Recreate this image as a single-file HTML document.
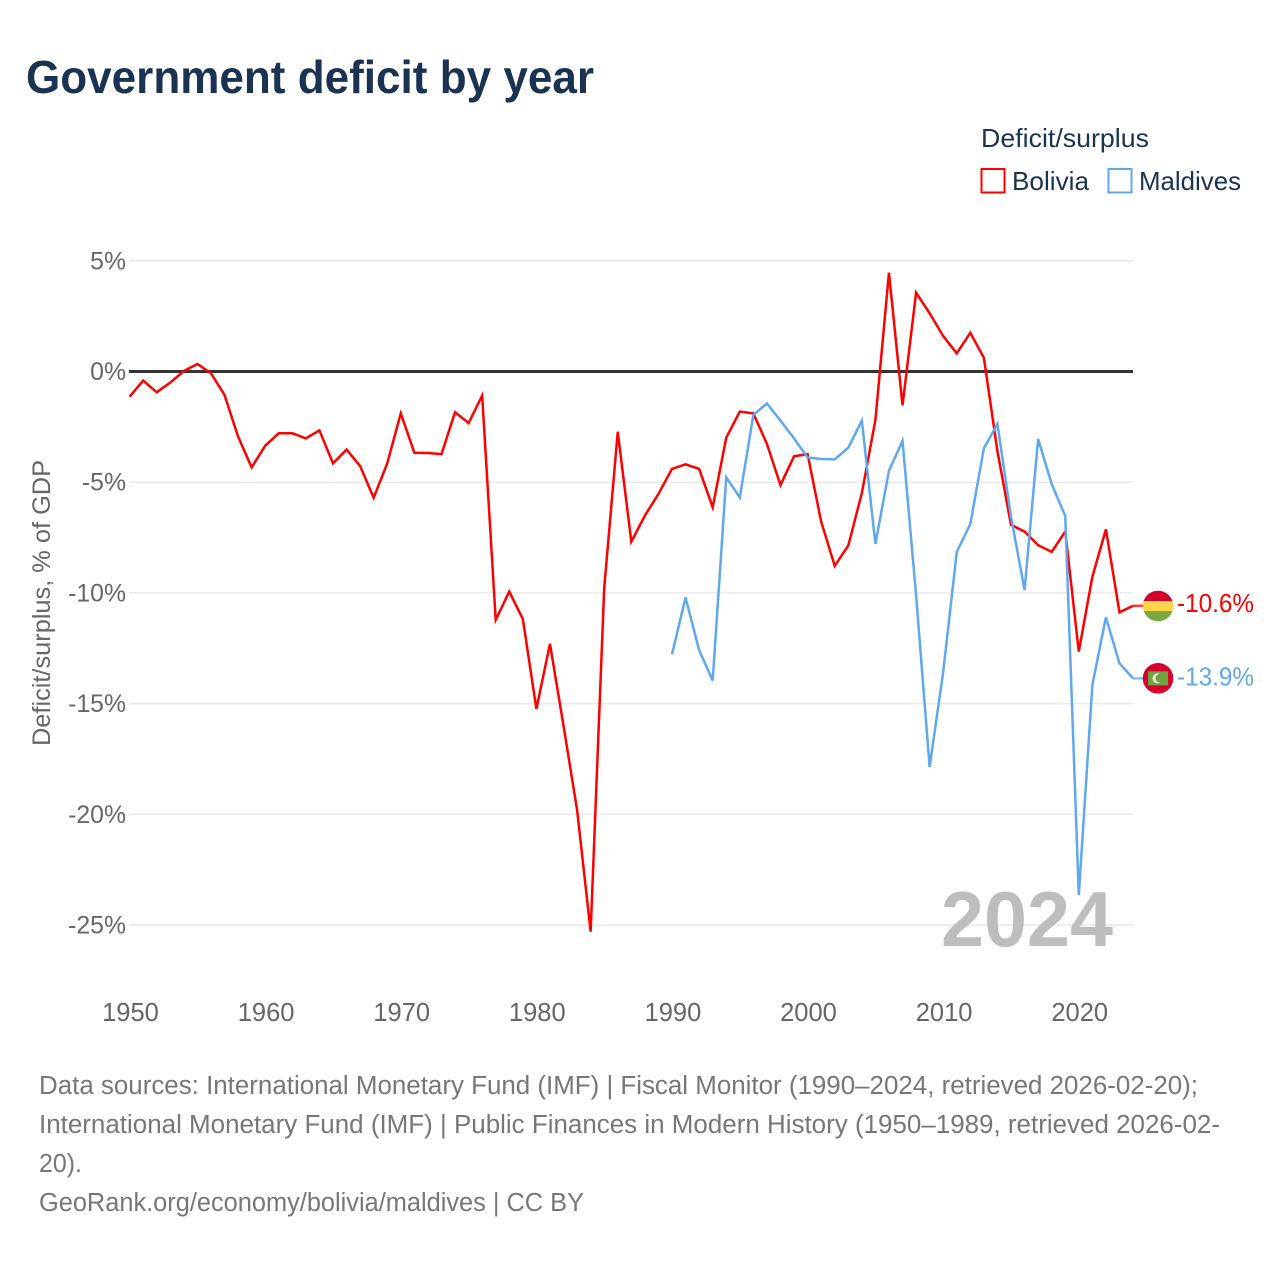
<!DOCTYPE html>
<html lang="en">
<head>
<meta charset="utf-8">
<title>Government deficit by year</title>
<style>
html,body{margin:0;padding:0;background:#fff;width:1280px;height:1280px;overflow:hidden}
svg{display:block}
text{font-family:"Liberation Sans",sans-serif}
</style>
</head>
<body>
<svg id="chart" width="1280" height="1280" viewBox="0 0 1280 1280" xmlns="http://www.w3.org/2000/svg">
  <rect width="1280" height="1280" fill="#fff"/>
  <text x="26" y="93" font-size="46" font-weight="700" fill="#1a3352" textLength="568" lengthAdjust="spacingAndGlyphs">Government deficit by year</text>
  <g>
    <text x="981" y="147" font-size="26" fill="#1a3352" textLength="168" lengthAdjust="spacingAndGlyphs">Deficit/surplus</text>
    <g>
      <rect x="981.5" y="169" width="23" height="23.5" fill="#fff" stroke="#ff0000" stroke-width="2"/>
      <text x="1012" y="190" font-size="26" fill="#1a3352" textLength="77" lengthAdjust="spacingAndGlyphs">Bolivia</text>
    </g>
    <g>
      <rect x="1108.5" y="169" width="23" height="23.5" fill="#fff" stroke="#5fa8ee" stroke-width="2"/>
      <text x="1139" y="190" font-size="26" fill="#1a3352" textLength="102" lengthAdjust="spacingAndGlyphs">Maldives</text>
    </g>
  </g>
  <text transform="translate(50,746) rotate(-90)" font-size="25" fill="#666" textLength="286" lengthAdjust="spacingAndGlyphs">Deficit/surplus, % of GDP</text>
  <g id="grid"></g>
  <g id="yticks"></g>
  <g id="xticks"></g>
  <text x="941" y="946" font-size="78" font-weight="700" fill="#bdbdbd" textLength="172" lengthAdjust="spacingAndGlyphs">2024</text>
  <g id="series"></g>
  <g id="ends"></g>
  <g font-size="25.5" fill="#777">
    <text x="39" y="1094" textLength="1159" lengthAdjust="spacingAndGlyphs">Data sources: International Monetary Fund (IMF) | Fiscal Monitor (1990–2024, retrieved 2026-02-20);</text>
    <text x="39" y="1133" textLength="1181" lengthAdjust="spacingAndGlyphs">International Monetary Fund (IMF) | Public Finances in Modern History (1950–1989, retrieved 2026-02-</text>
    <text x="39" y="1172" textLength="43" lengthAdjust="spacingAndGlyphs">20).</text>
    <text x="39" y="1211" textLength="545" lengthAdjust="spacingAndGlyphs">GeoRank.org/economy/bolivia/maldives | CC BY</text>
  </g>
</svg>
<script>
const xTickYears = [1950,1960,1970,1980,1990,2000,2010,2020];
const yTickValues = [5,0,-5,-10,-15,-20,-25];
const yTickLabels = ["5%","0%","-5%","-10%","-15%","-20%","-25%"];
const boliviaStartYear = 1950;
const boliviaValues = [-1.14,-0.41,-0.94,-0.5,0.02,0.34,-0.08,-1.06,-2.94,-4.33,
  -3.35,-2.79,-2.79,-3.02,-2.66,-4.15,-3.53,-4.27,-5.7,-4.15,
  -1.89,-3.67,-3.68,-3.73,-1.84,-2.33,-1.09,-11.22,-9.94,-11.18,
  -15.24,-12.3,-16,-19.8,-25.3,-9.78,-2.72,-7.69,-6.51,-5.53,
  -4.4,-4.19,-4.4,-6.13,-2.99,-1.81,-1.89,-3.27,-5.13,-3.83,
  -3.73,-6.78,-8.78,-7.86,-5.5,-2.19,4.46,-1.53,3.56,2.63,
  1.6,0.82,1.75,0.62,-3.6,-6.93,-7.23,-7.84,-8.15,-7.23,
  -12.65,-9.27,-7.13,-10.88,-10.58];
const maldivesStartYear = 1990;
const maldivesValues = [-12.77,-10.21,-12.58,-13.96,-4.78,-5.69,-1.96,-1.44,-2.22,-3.02,
  -3.89,-3.95,-3.97,-3.44,-2.22,-7.79,-4.48,-3.13,-10.1,-17.86,
  -13.57,-8.15,-6.89,-3.47,-2.37,-6.56,-9.87,-3.05,-5.08,-6.53,
  -23.64,-14.16,-11.1,-13.18,-13.86];
const endLabels = ["-10.6%","-13.9%"];

const SVGNS = "http://www.w3.org/2000/svg";
const xScale = y => 129.6 + (y - 1950) * 13.56;
const yScale = v => 371.5 - v * 22.14;
function make(tag, attrs, parent, txt){
  const el = document.createElementNS(SVGNS, tag);
  for (const k in attrs) el.setAttribute(k, attrs[k]);
  if (txt !== undefined) el.textContent = txt;
  parent.appendChild(el);
  return el;
}
const grid = document.getElementById('grid');
const yticks = document.getElementById('yticks');
const xticks = document.getElementById('xticks');
const series = document.getElementById('series');
const ends = document.getElementById('ends');

yTickValues.forEach((v,i)=>{
  if (v === 0) return;
  const l = make('line',{x1:129,x2:1133,y1:yScale(v),y2:yScale(v),stroke:'#e9e9e9','stroke-width':1.5},grid);
  
  
});
yTickValues.forEach((v,i)=>{
  const t = make('text',{x:126,y:yScale(v)+8.5,'text-anchor':'end','font-size':24.8,fill:'#666'},yticks,yTickLabels[i]);
  
  
});
xTickYears.forEach(y=>{
  const t = make('text',{x:xScale(y)+0.9,y:1021,'text-anchor':'middle','font-size':25.5,fill:'#666'},xticks,String(y));
  
  
});
function pts(start, vals){
  return vals.map((v,i)=>xScale(start+i).toFixed(2)+','+yScale(v).toFixed(2)).join(' ');
}
const zero = make('line',{x1:129,x2:1133,y1:yScale(0),y2:yScale(0),stroke:'#333','stroke-width':3},series);


const lineB = make('polyline',{points:pts(boliviaStartYear,boliviaValues),fill:'none',stroke:'#ff0000','stroke-width':2.5,'stroke-linejoin':'miter'},series);


const lineM = make('polyline',{points:pts(maldivesStartYear,maldivesValues),fill:'none',stroke:'#5fa8ee','stroke-width':2.5,'stroke-linejoin':'miter'},series);



const flagX = xScale(2024) + 25;
const endYB = yScale(boliviaValues[boliviaValues.length-1]);
const endYM = yScale(maldivesValues[maldivesValues.length-1]);
const conB = make('line',{x1:xScale(2024),x2:flagX,y1:endYB,y2:endYB,stroke:'#ff0000','stroke-width':2.5,'stroke-opacity':0.75},ends);


const conM = make('line',{x1:xScale(2024),x2:flagX,y1:endYM,y2:endYM,stroke:'#5fa8ee','stroke-width':2.5,'stroke-opacity':0.75},ends);


const defs = make('defs',{},ends);
const cpB = make('clipPath',{id:'clip-b'},defs);
const cy1 = endYB + 0.3;
const cy2 = endYM;
make('circle',{cx:flagX,cy:cy1,r:15.3},cpB);
const fb = make('g',{'clip-path':'url(#clip-b)'},ends);


make('rect',{x:flagX-16,y:cy1-16,width:32,height:11,fill:'#d5002e'},fb);
make('rect',{x:flagX-16,y:cy1-5,width:32,height:10,fill:'#ffd54a'},fb);
make('rect',{x:flagX-16,y:cy1+5,width:32,height:11,fill:'#79a940'},fb);
const fm = make('g',{},ends);


make('circle',{cx:flagX,cy:cy2,r:15.3,fill:'#d5002e'},fm);
make('rect',{x:flagX-10,y:cy2-7,width:20,height:14,fill:'#6ea544'},fm);
make('circle',{cx:flagX-0.5,cy:cy2,r:5,fill:'#eef3e6'},fm);
make('circle',{cx:flagX+1.7,cy:cy2,r:4.3,fill:'#6ea544'},fm);
const labB = make('text',{x:1177,y:endYB+6.5,'font-size':25.5,fill:'#ff0000'},ends,endLabels[0]);


labB.setAttribute('textLength','77');
labB.setAttribute('lengthAdjust','spacingAndGlyphs');
const labM = make('text',{x:1177,y:endYM+7,'font-size':25.5,fill:'#5fa8ee'},ends,endLabels[1]);


labM.setAttribute('textLength','77');
labM.setAttribute('lengthAdjust','spacingAndGlyphs');
</script>
</body>
</html>
